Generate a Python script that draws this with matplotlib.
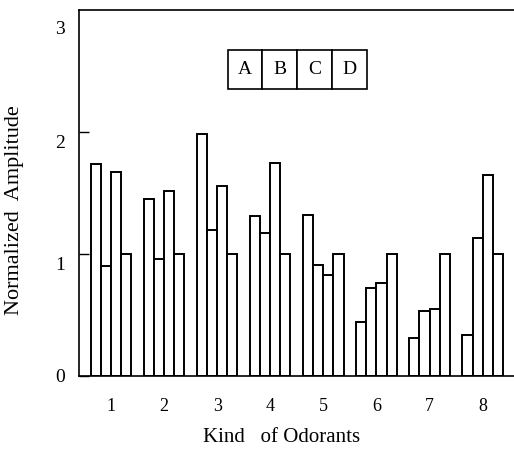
"""Grouped bar chart: normalized amplitude per odorant, sensors A-D."""

import matplotlib
matplotlib.use("Agg")
import matplotlib.pyplot as plt
import matplotlib.transforms as mtransforms
import numpy as np
from matplotlib.patches import Rectangle

# data
odorants = [1, 2, 3, 4, 5, 6, 7, 8]
sensor_a = [1.74, 1.45, 1.98, 1.31, 1.32, 0.44, 0.31, 0.34]
sensor_b = [0.90, 0.96, 1.20, 1.17, 0.91, 0.72, 0.53, 1.13]
sensor_c = [1.67, 1.52, 1.56, 1.75, 0.83, 0.76, 0.55, 1.65]
sensor_d = [1.00, 1.00, 1.00, 1.00, 1.00, 1.00, 1.00, 1.00]
sensor_names = ["A", "B", "C", "D"]
y_ticks = [0, 1, 2, 3]

FONT = ["Liberation Serif", "DejaVu Serif"]
plt.rcParams["font.family"] = FONT

fig = plt.figure(figsize=(5.14, 4.59), dpi=100)
ax = fig.add_axes([79 / 514, 83 / 459, 1 - 79 / 514, (376 - 10) / 459])

x = np.array(odorants, dtype=float)
width = 0.19
series = [sensor_a, sensor_b, sensor_c, sensor_d]
for i, vals in enumerate(series):
    ax.bar(x + (i - 1.5) * width, vals, width=width, facecolor="white",
           edgecolor="black", linewidth=1.4, zorder=2)

ax.set_xlim(0.397, 8.59)
ax.set_ylim(0, 3)

for side in ["left", "bottom", "top"]:
    ax.spines[side].set_linewidth(1.2)
ax.spines["right"].set_visible(False)

ax.set_yticks(y_ticks)
ax.set_yticklabels([str(t) for t in y_ticks])
ax.tick_params(axis="y", direction="in", length=7, width=1.0, pad=10,
               labelsize=14)
ax.yaxis.get_major_ticks()[-1].tick1line.set_visible(False)
ax.set_xticks(x)
ax.set_xticklabels([str(o) for o in odorants])
ax.tick_params(axis="x", length=0, pad=16, labelsize=13)

# the scanned labels sit a little below their ticks (more so near the top)
label_drop = [0, 10, 9, 18]
for lab, drop in zip(ax.get_yticklabels(), label_drop):
    shift = mtransforms.ScaledTranslation(0, -drop / 100, fig.dpi_scale_trans)
    lab.set_transform(lab.get_transform() + shift)

# boxed A B C D key at the top
cell_w = (5.815 - 3.198) / 4
for i, name in enumerate(sensor_names):
    x0 = 3.198 + i * cell_w
    ax.add_patch(Rectangle((x0, 2.352), cell_w, 0.32, facecolor="white",
                           edgecolor="black", linewidth=1.2, zorder=3))
    ax.text(x0 + cell_w / 2, 2.512, name, ha="center", va="center",
            fontsize=14, zorder=4)

fig.text(15 / 514, 1 - 210 / 459, "Normalized  Amplitude", rotation=90,
         ha="center", va="center", fontsize=16)
fig.text(282 / 514, 1 - 438 / 459, "Kind   of Odorants", ha="center",
         va="center", fontsize=15)

fig.savefig("out.png", dpi=100)
plt.close(fig)
